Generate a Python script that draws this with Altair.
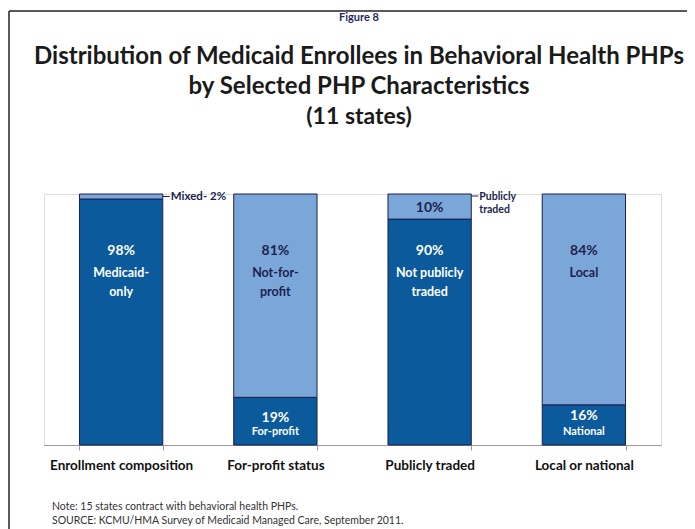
import altair as alt
import pandas as pd

# ---- data ----
categories = ["Enrollment composition", "For-profit status", "Publicly traded", "Local or national"]
dark_share = [98, 19, 90, 16]
light_share = [2, 81, 10, 84]
dark_names = ["Medicaid-only", "For-profit", "Not publicly traded", "National"]
light_names = ["Mixed", "Not-for-profit", "Publicly traded", "Local"]

title_lines = ["Distribution of Medicaid Enrollees in Behavioral Health PHPs",
               "by Selected PHP Characteristics"]
subtitle = "(11 states)"
figure_label = "Figure 8"
note_lines = ["Note: 15 states contract with behavioral health PHPs.",
              "SOURCE:  KCMU/HMA Survey of Medicaid Managed Care, September 2011."]

DARK = "#0a5a9c"
LIGHT = "#7ba7d8"
NAVY = "#1c1f4f"
FONT = "Lato"

# ---- segments ----
rows = []
for c, d, l, dn, ln in zip(categories, dark_share, light_share, dark_names, light_names):
    rows.append({"cat": c, "seg": "dark", "name": dn, "y0": 0, "y1": d})
    rows.append({"cat": c, "seg": "light", "name": ln, "y0": d, "y1": d + l})
seg_df = pd.DataFrame(rows)

# ---- in-bar labels (text, level in % of bar height, size, colour) ----
lab = [
    (categories[0], "98%", 77.3, 14, "white"),
    (categories[0], "Medicaid-", 68.5, 12.5, "white"),
    (categories[0], "only", 61.0, 12.5, "white"),
    (categories[1], "81%", 77.3, 14, NAVY),
    (categories[1], "Not-for-", 68.5, 12.5, NAVY),
    (categories[1], "profit", 61.0, 12.5, NAVY),
    (categories[1], "19%", 10.8, 14, "white"),
    (categories[1], "For-profit", 5.2, 11, "white"),
    (categories[2], "10%", 94.4, 14, NAVY),
    (categories[2], "90%", 77.3, 14, "white"),
    (categories[2], "Not publicly", 68.5, 12.5, "white"),
    (categories[2], "traded", 61.0, 12.5, "white"),
    (categories[3], "84%", 77.3, 14, NAVY),
    (categories[3], "Local", 68.5, 12.5, NAVY),
    (categories[3], "16%", 11.6, 14, "white"),
    (categories[3], "National", 5.2, 11, "white"),
]
lab_df = pd.DataFrame(lab, columns=["cat", "text", "y", "size", "color"])

side = [
    (categories[0], "Mixed- 2%", 99.0, 11.5),
    (categories[2], "Publicly", 99.0, 10.5),
    (categories[2], "traded", 93.5, 10.5),
]
side_df = pd.DataFrame(side, columns=["cat", "text", "y", "size"])
lead_df = pd.DataFrame([(categories[0], 99.0), (categories[2], 99.2)], columns=["cat", "y"])

xscale = alt.Scale(domain=categories, paddingInner=0.46, paddingOuter=0.23)
yscale = alt.Scale(domain=[0, 100])

xenc = alt.X("cat:N", scale=xscale, sort=categories,
             axis=alt.Axis(title=None, labelAngle=0, tickBand="extent", domainColor="#9a9a9a",
                           tickColor="#9a9a9a", tickSize=5, labelPadding=8, labelFont=FONT,
                           labelFontSize=13.5, labelFontWeight="bold", labelColor="#111111",
                           grid=False))

bars = alt.Chart(seg_df).mark_bar(stroke=NAVY, strokeWidth=1).encode(
    x=xenc,
    y=alt.Y("y0:Q", scale=yscale, axis=None),
    y2="y1:Q",
    color=alt.Color("seg:N", scale=alt.Scale(domain=["dark", "light"], range=[DARK, LIGHT]), legend=None),
)

labels = alt.Chart(lab_df).mark_text(font=FONT, fontWeight="bold", baseline="middle").encode(
    x=alt.X("cat:N", scale=xscale, sort=categories),
    y=alt.Y("y:Q", scale=yscale),
    text="text:N",
    size=alt.Size("size:Q", scale=None, legend=None),
    color=alt.Color("color:N", scale=None),
)

side_text = alt.Chart(side_df).mark_text(font=FONT, fontWeight="bold", align="left",
                                         baseline="middle", dx=8, color=NAVY).encode(
    x=alt.X("cat:N", scale=xscale, sort=categories, bandPosition=1),
    y=alt.Y("y:Q", scale=yscale),
    text="text:N",
    size=alt.Size("size:Q", scale=None, legend=None),
)

leaders = alt.Chart(lead_df).mark_rule(x2Offset=7, color=NAVY, strokeWidth=1).encode(
    x=alt.X("cat:N", scale=xscale, sort=categories, bandPosition=1),
    x2=alt.X2("cat:N", bandPosition=1),
    y=alt.Y("y:Q", scale=yscale),
)

# ---- headings / notes / frame ----
head_df = pd.DataFrame({
    "text": [figure_label, title_lines[0], title_lines[1], subtitle],
    "py": [-176, -137, -107, -77],
    "size": [11, 24, 24, 23],
    "color": ["#1f2a5c", "#1a1a1a", "#1a1a1a", "#1a1a1a"],
})
heads = alt.Chart(head_df).mark_text(font=FONT, fontWeight="bold", baseline="middle",
                                     align="center").encode(
    x=alt.value(315),
    y=alt.Y("py:Q", scale=None),
    text="text:N",
    size=alt.Size("size:Q", scale=None, legend=None),
    color=alt.Color("color:N", scale=None),
)

note_df = pd.DataFrame({"text": note_lines, "py": [313, 327]})
notes = alt.Chart(note_df).mark_text(font=FONT, fontSize=10.5, align="left", baseline="middle",
                                     color="#333333").encode(
    x=alt.value(8),
    y=alt.Y("py:Q", scale=None),
    text="text:N",
)

frame_left = alt.Chart(pd.DataFrame({"a": [0]})).mark_rule(color="#222222", strokeWidth=1.5).encode(
    x=alt.value(-35), y=alt.value(-183), y2=alt.value(400))
frame_top = alt.Chart(pd.DataFrame({"a": [0]})).mark_rule(color="#222222", strokeWidth=1.5).encode(
    x=alt.value(-35), x2=alt.value(700), y=alt.value(-183))

chart = alt.layer(frame_left, frame_top, heads, bars, labels, side_text, leaders, notes).properties(
    width=617, height=251,
    autosize=alt.AutoSizeParams(type="none"),
    padding={"left": 36, "top": 186, "right": 26, "bottom": 84},
).configure_view(stroke=None).configure(background="white")

chart.save("out.html", embed_options={"renderer": "svg", "actions": False})
